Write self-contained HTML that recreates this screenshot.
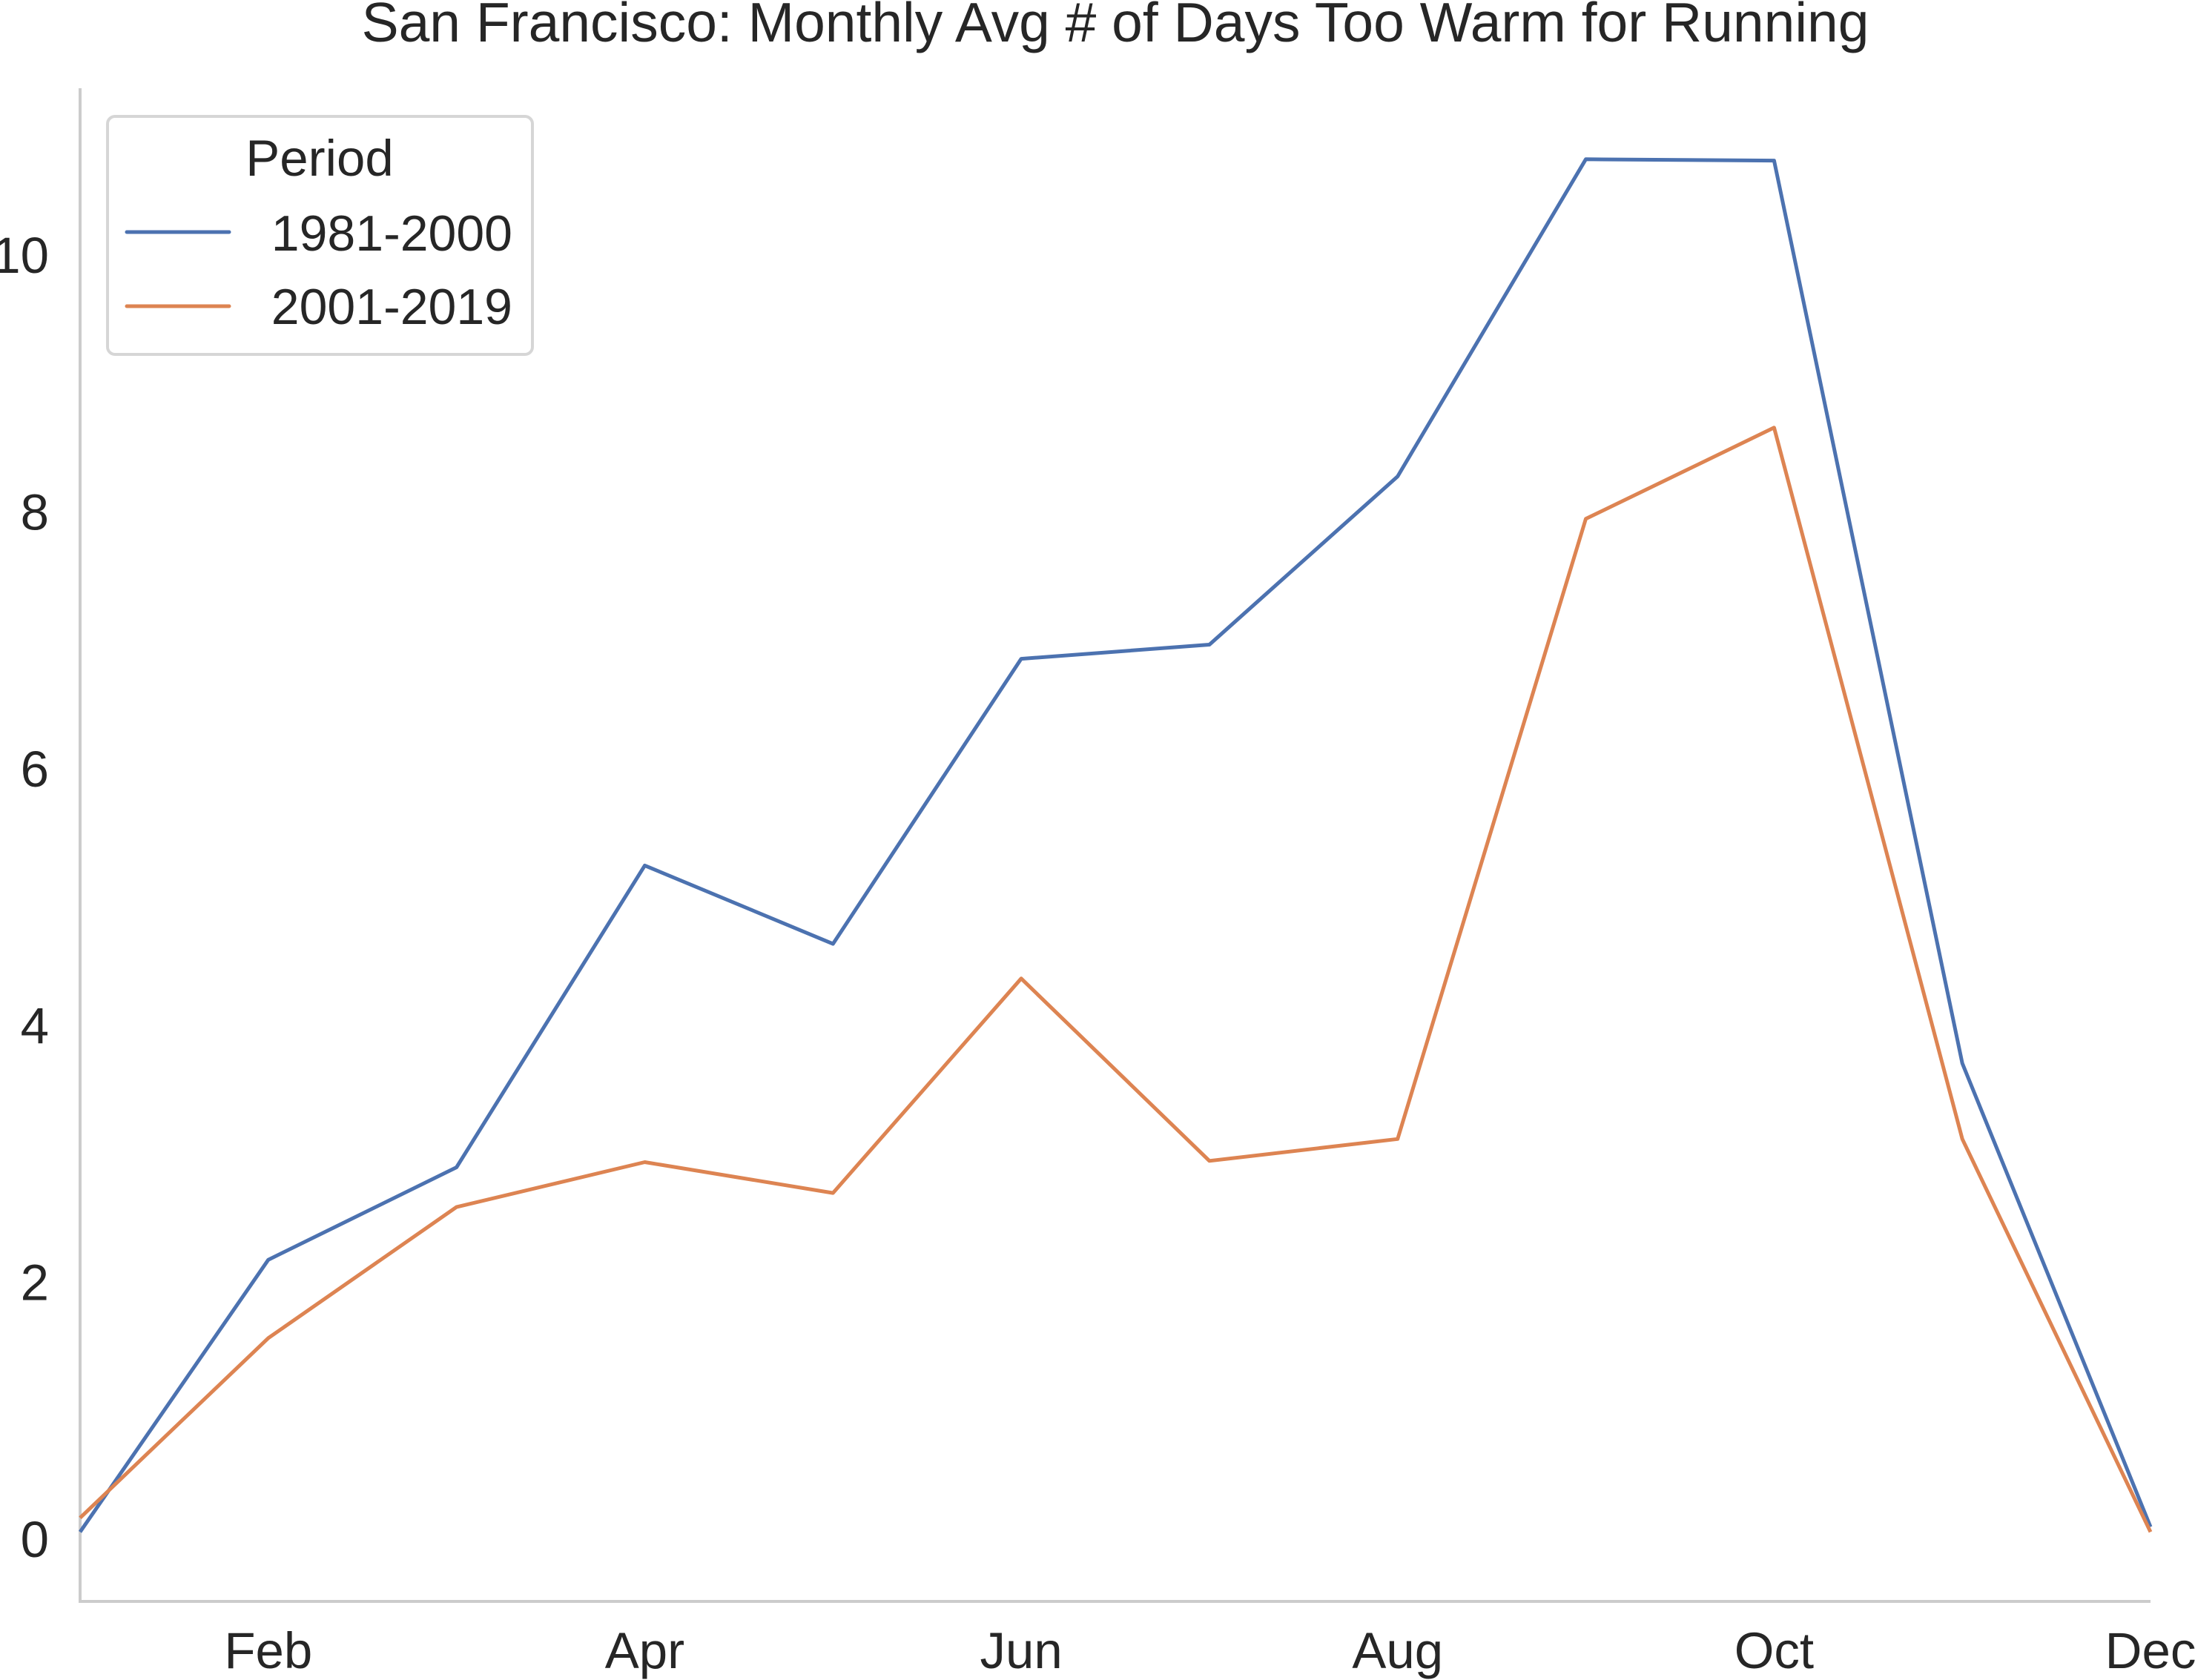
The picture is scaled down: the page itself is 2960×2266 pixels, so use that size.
<!DOCTYPE html>
<html><head><meta charset="utf-8"><style>
html,body{margin:0;padding:0;background:#fff}
svg{display:block;font-family:"Liberation Sans",Arial,sans-serif}
</style></head><body>
<svg id="chart" width="2960" height="2266" viewBox="0 0 2960 2266" xmlns="http://www.w3.org/2000/svg">
<text x="1504" y="56" font-size="75" fill="#262626" text-anchor="middle">San Francisco: Monthly Avg # of Days Too Warm for Running</text>
<g id="axes"></g>
<g id="series"></g>
<g>
<rect x="145" y="157" width="573" height="321" rx="10" fill="#fff" fill-opacity="0.8" stroke="#d6d6d6" stroke-width="4"/>
<text x="431" y="237" font-size="69" fill="#262626" text-anchor="middle">Period</text>
<line x1="171" y1="313" x2="309" y2="313" stroke="#4c72b0" stroke-width="5" stroke-linecap="round"/>
<text x="691" y="338" font-size="68" fill="#262626" text-anchor="end">1981-2000</text>
<line x1="171" y1="413" x2="309" y2="413" stroke="#dd8452" stroke-width="5" stroke-linecap="round"/>
<text x="691" y="437" font-size="68" fill="#262626" text-anchor="end">2001-2019</text>
</g>
</svg>
<script>
const months = ["Jan","Feb","Mar","Apr","May","Jun","Jul","Aug","Sep","Oct","Nov","Dec"];
const xTickLabels = ["Feb","Apr","Jun","Aug","Oct","Dec"];
const yTicks = [0,2,4,6,8,10];
const series1981 = [0.05,2.17,2.89,5.24,4.63,6.85,6.96,8.27,10.74,10.73,3.70,0.09];
const series2001 = [0.16,1.56,2.58,2.93,2.69,4.36,2.94,3.11,7.94,8.65,3.11,0.05];

const NS="http://www.w3.org/2000/svg";
const X0=108, X1=2900, Y0=2075, Y10=343;
function xs(i){return X0+(X1-X0)*i/(months.length-1);}
function ys(v){return Y0+(Y10-Y0)*v/10;}
function mk(tag,attrs,parent){const e=document.createElementNS(NS,tag);for(const k in attrs)e.setAttribute(k,attrs[k]);parent.appendChild(e);return e;}
const axes=document.getElementById('axes');
let sp=mk('line',{x1:X0,y1:119,x2:X0,y2:2160,stroke:'#cccccc','stroke-width':4},axes);


sp=mk('line',{x1:X0-2,y1:2160,x2:X1,y2:2160,stroke:'#cccccc','stroke-width':4},axes);


yTicks.forEach(v=>{
  const t=mk('text',{x:X0-42,y:ys(v)+25,'font-size':69,fill:'#262626','text-anchor':'end'},axes);
  t.textContent=v;
  
  
});
xTickLabels.forEach(m=>{
  const i=months.indexOf(m);
  const t=mk('text',{x:xs(i),y:2250,'font-size':69,fill:'#262626','text-anchor':'middle'},axes);
  t.textContent=m;
  
  
});
const sg=document.getElementById('series');
function drawLine(vals,color,name){
  const pts=vals.map((v,i)=>xs(i).toFixed(1)+','+ys(v).toFixed(1)).join(' ');
  const p=mk('polyline',{points:pts,fill:'none',stroke:color,'stroke-width':5,'stroke-linejoin':'round','stroke-linecap':'butt'},sg);
  
  
}
drawLine(series1981,'#4c72b0','line-1981-2000');
drawLine(series2001,'#dd8452','line-2001-2019');
</script>
</body></html>
